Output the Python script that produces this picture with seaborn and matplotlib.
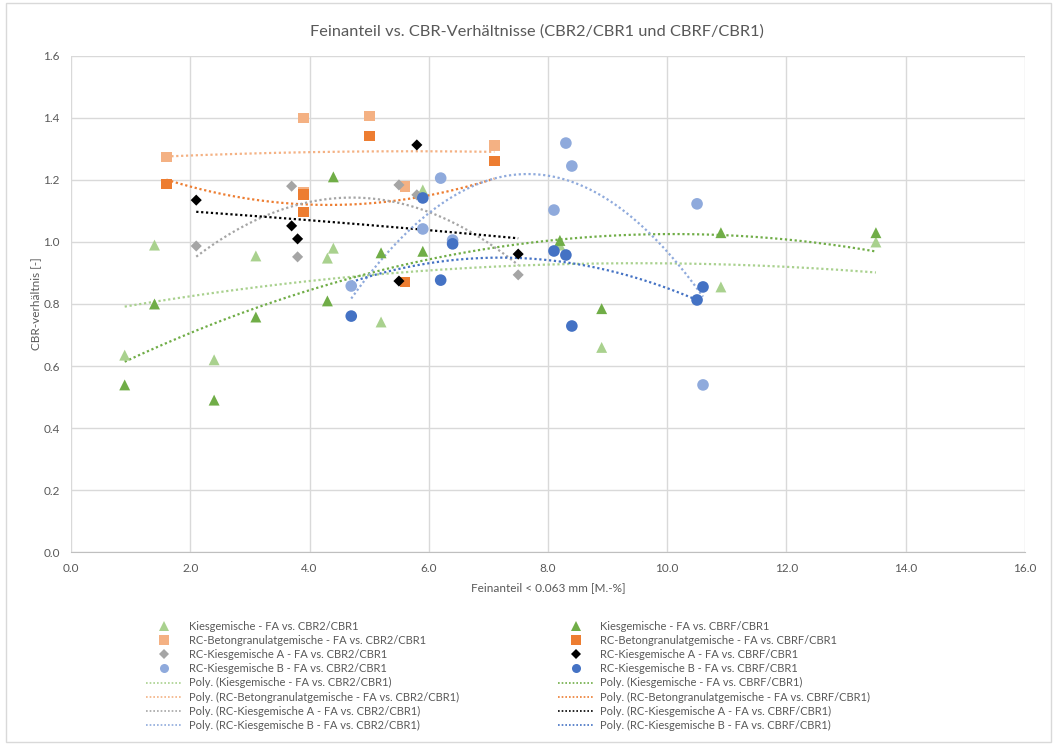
import numpy as np
import pandas as pd
import matplotlib
matplotlib.use("Agg")
import matplotlib.pyplot as plt
import seaborn as sns
from matplotlib.lines import Line2D

# Feinanteil [M.-%] und CBR-Verhältnisse je Gemischgruppe
kies_fa = [0.9, 1.4, 2.4, 3.1, 4.3, 4.4, 5.2, 5.9, 8.2, 8.9, 10.9, 13.5]
kies_cbr2 = [0.635, 0.99, 0.62, 0.955, 0.948, 0.98, 0.742, 1.168, 0.99, 0.66, 0.855, 1.0]
kies_cbrf = [0.539, 0.80, 0.49, 0.758, 0.81, 1.21, 0.965, 0.97, 1.005, 0.785, 1.03, 1.03]

beton_fa = [1.6, 3.9, 3.9, 5.0, 5.6, 7.1]
beton_cbr2 = [1.274, 1.40, 1.16, 1.406, 1.18, 1.31]
beton_cbrf = [1.187, 1.152, 1.097, 1.342, 0.871, 1.261]

rca_fa = [2.1, 3.7, 3.8, 5.5, 5.8, 7.5]
rca_cbr2 = [0.987, 1.18, 0.952, 1.184, 1.152, 0.894]
rca_cbrf = [1.135, 1.052, 1.01, 0.874, 1.313, 0.961]

rcb_fa = [4.7, 5.9, 6.2, 6.4, 8.1, 8.3, 8.4, 10.5, 10.6]
rcb_cbr2 = [0.858, 1.042, 1.206, 1.006, 1.103, 1.319, 1.245, 1.123, 0.539]
rcb_cbrf = [0.761, 1.142, 0.877, 0.994, 0.971, 0.958, 0.729, 0.813, 0.855]

x_ticks = [0, 2, 4, 6, 8, 10, 12, 14, 16]
y_ticks = [0.0, 0.2, 0.4, 0.6, 0.8, 1.0, 1.2, 1.4, 1.6]

groups = [
    ("Kiesgemische", kies_fa, kies_cbr2, kies_fa, kies_cbrf, "^", 62, "#A9D18E", "#70AD47"),
    ("RC-Betongranulatgemische", beton_fa, beton_cbr2, beton_fa, beton_cbrf, "s", 60, "#F4B183", "#ED7D31"),
    ("RC-Kiesgemische A", rca_fa, rca_cbr2, rca_fa, rca_cbrf, "D", 32, "#A5A5A5", "#000000"),
    ("RC-Kiesgemische B", rcb_fa, rcb_cbr2, rcb_fa, rcb_cbrf, "o", 70, "#8FAADC", "#4472C4"),
]

plt.rcParams["font.family"] = ["Lato", "DejaVu Sans"]
text_col = "#595959"
grid_col = "#D9D9D9"

fig = plt.figure(figsize=(10.57, 7.46), dpi=100)
ax = fig.add_axes([0.0672, 0.26, 0.9025, 0.665])

# scatter series in Excel order (CBR2 then CBRF per group)
for name, x2, y2, xf, yf, mk, size, c2, cf in groups:
    sns.scatterplot(x=x2, y=y2, marker=mk, s=size, color=c2, edgecolor="none", ax=ax, zorder=3)
    sns.scatterplot(x=xf, y=yf, marker=mk, s=size, color=cf, edgecolor="none", ax=ax, zorder=3)

# quadratic trend lines
def trend(x, y):
    x = np.asarray(x, float)
    coef = np.polyfit(x, np.asarray(y, float), 2)
    xs = np.linspace(x.min(), x.max(), 200)
    return xs, np.polyval(coef, xs)

for name, x2, y2, xf, yf, mk, size, c2, cf in groups:
    for xx, yy, col in ((x2, y2, c2), (xf, yf, cf)):
        xs, ys = trend(xx, yy)
        sns.lineplot(x=xs, y=ys, color=col, linestyle=(0, (1, 1.2)), linewidth=1.6, ax=ax, zorder=2)

ax.set_xlim(0, 16)
ax.set_ylim(0, 1.6)
ax.set_xticks(x_ticks)
ax.set_xticklabels([f"{v:.1f}" for v in x_ticks])
ax.set_yticks(y_ticks)
ax.set_yticklabels([f"{v:.1f}" for v in y_ticks])
ax.grid(True, color=grid_col, linewidth=1.0)
ax.set_axisbelow(True)
for sp in ax.spines.values():
    sp.set_visible(False)
ax.spines["bottom"].set_visible(True)
ax.spines["bottom"].set_color("#BFBFBF")
ax.tick_params(axis="both", length=0, labelsize=8.5, labelcolor=text_col, pad=8)

fig.text(537 / 1057, 1 - 32 / 746, "Feinanteil vs. CBR-Verhältnisse (CBR2/CBR1 und CBRF/CBR1)",
         fontsize=11.8, color=text_col, ha="center", va="center")
ax.set_xlabel("Feinanteil < 0.063 mm [M.-%]", fontsize=8.5, color=text_col, labelpad=6)
ax.set_ylabel("CBR-verhältnis [-]", fontsize=8.5, color=text_col, labelpad=2)

# legend: left column CBR2/CBR1, right column CBRF/CBR1
handles, labels = [], []
for suffix, idx in (("CBR2/CBR1", 7), ("CBRF/CBR1", 8)):
    for g in groups:
        col = g[idx]
        ms = 6.5 if g[5] != "D" else 5
        handles.append(Line2D([], [], marker=g[5], color=col, linestyle="none", markersize=ms,
                              markeredgewidth=0))
        labels.append(f"{g[0]} - FA vs. {suffix}")
    for g in groups:
        col = g[idx]
        handles.append(Line2D([], [], color=col, linestyle=(0, (1, 1.2)), linewidth=1.2))
        labels.append(f"Poly. ({g[0]} - FA vs. {suffix})")

leg = fig.legend(handles, labels, ncol=2, loc="upper left", bbox_to_anchor=(0.129, 0.181),
                 frameon=False, fontsize=8, labelcolor=text_col, handlelength=3.2,
                 handletextpad=0.6, columnspacing=8.95, labelspacing=0.28)

# outer chart frame
fig.patches.append(plt.Rectangle((0.006, 0.006), 0.988, 0.99, transform=fig.transFigure,
                                 fill=False, edgecolor="#D9D9D9", linewidth=1.0))

fig.savefig("out.png", dpi=100)
